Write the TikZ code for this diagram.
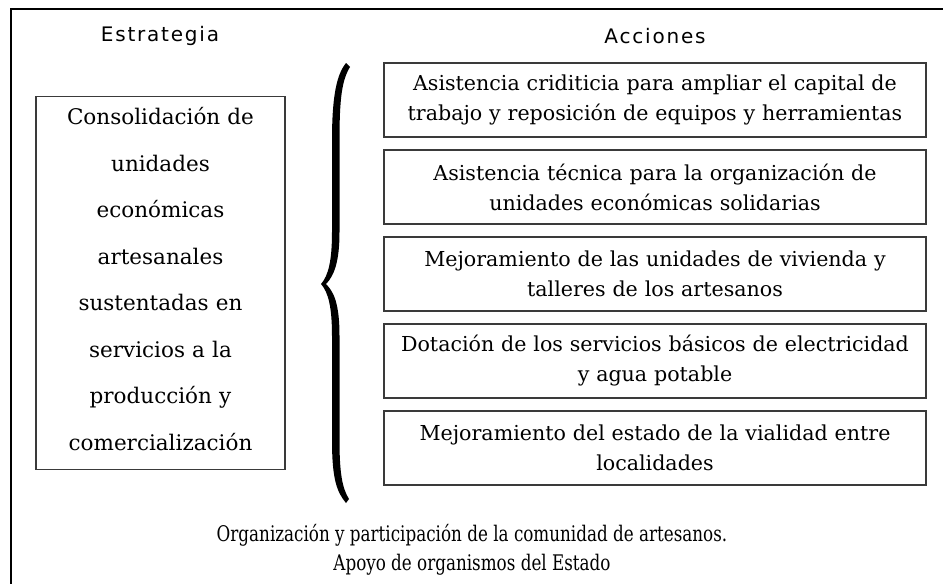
\documentclass[tikz,border=0pt]{standalone}
\usepackage{fontspec}
\setmainfont{DejaVu Serif}
\newfontfamily\headfont[LetterSpace=9]{DejaVu Sans}
\newfontfamily\condfont[FakeStretch=0.78]{DejaVu Serif}
\definecolor{boxline}{HTML}{3A3A3A}
\tikzset{
  head/.style={font=\headfont\fontsize{20}{24}\selectfont, inner sep=0pt},
  actbox/.style={draw=boxline, line width=1.1pt, minimum width=542pt, minimum height=74pt,
     text width=536pt, align=center, inner sep=0pt,
     font=\fontsize{20.6}{30}\selectfont},
  stratbox/.style={draw=boxline, line width=1.1pt, minimum width=249pt, minimum height=373pt,
     inner sep=0pt},
  strattext/.style={text width=245pt, align=center, inner sep=0pt,
     font=\fontsize{21.5}{46.5}\selectfont},
  basetext/.style={align=center, inner sep=0pt, font=\condfont\fontsize{21.5}{29}\selectfont},
  frameline/.style={line width=1.3pt, black}
}
\begin{document}
\begin{tikzpicture}[x=1pt,y=-1pt]
\useasboundingbox (0,0) rectangle (943,584);
% outer frame (only top and left edges are visible)
\coordinate (fr) at (943,9);
\coordinate (fc) at (11,9);
\coordinate (fb) at (11,584);
\draw[frameline] (fr) -- (fc) -- (fb);
% headings
\node[head] (est) at (160,36) {Estrategia};
\node[head] (acc) at (655,36) {Acciones};
% strategy box
\node[stratbox] (strat) at (160.5,283) {};
\node[strattext] (stratlabel) at (160.5,279) {Consolidación de\\ unidades\\ económicas\\ artesanales\\ sustentadas en\\ servicios a la\\ producción y\\ comercialización};
% action boxes
\node[actbox] (a1) at (655,100) {Asistencia criditicia para ampliar el capital de\\ trabajo y reposición de equipos y herramientas};
\node[actbox] (a2) at (655,187) {Asistencia técnica para la organización de\\ unidades económicas solidarias};
\node[actbox] (a3) at (655,274) {Mejoramiento de las unidades de vivienda y\\ talleres de los artesanos};
\node[actbox] (a4) at (655,361) {Dotación de los servicios básicos de electricidad\\ y agua potable};
\node[actbox] (a5) at (655,448) {Mejoramiento del estado de la vialidad entre\\ localidades};
% brace
\fill[black]
  (346,63) .. controls (337,74) and (332,95) .. (332,140)
  -- (332,232) .. controls (332,262) and (328,276) .. (321,284)
  .. controls (328,292) and (332,306) .. (332,336)
  -- (332,440) .. controls (332,480) and (337,492) .. (346,503)
  -- (349,499) .. controls (342,488) and (339.5,472) .. (339.5,440)
  -- (339.5,336) .. controls (339.5,304) and (334,292) .. (326,284)
  .. controls (334,276) and (339.5,262) .. (339.5,232)
  -- (339.5,140) .. controls (339.5,98) and (342,80) .. (350,67) -- cycle;
% bottom text
\node[basetext] (base) at (472,550) {Organización y participación de la comunidad de artesanos.\\ Apoyo de organismos del Estado};
\end{tikzpicture}
\end{document}
